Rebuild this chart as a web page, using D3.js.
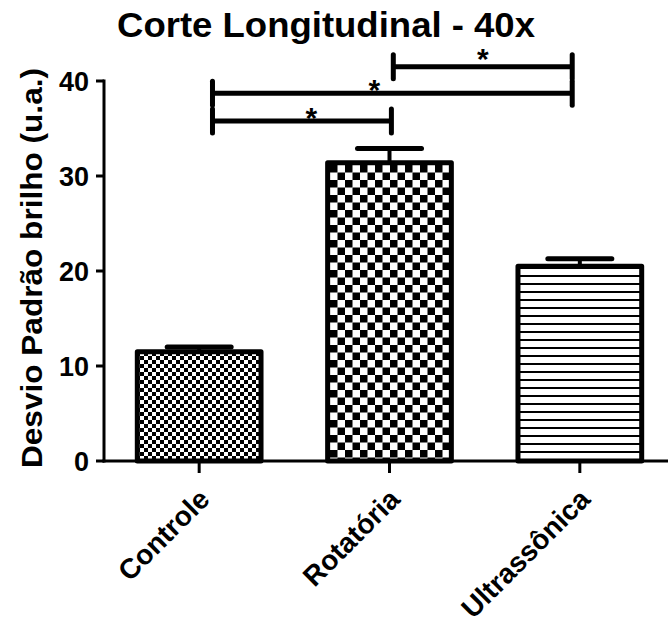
<!DOCTYPE html>
<html>
<head>
<meta charset="utf-8">
<script src="https://cdn.jsdelivr.net/npm/d3@7"></script>
<style>
  body { margin: 0; background: #fff; }
  text { font-family: "Liberation Sans", Arial, sans-serif; font-weight: bold; fill: #000; }
</style>
</head>
<body>
<div id="chart"></div>
<script>
// data
var groups = ["Controle", "Rotatória", "Ultrassônica"];
var means = [11.5, 31.4, 20.5];
var errs = [0.5, 1.5, 0.8];
var patterns = ["fineCheck", "bigCheck", "hLines"];
var yTicks = [0, 10, 20, 30, 40];
// significance brackets: [from index, to index, height, star index, star lift]
var brackets = [
    [0.07, 1.01, 35.8, 0.59, 7],
    [0.07, 1.96, 38.7, 0.92, 7],
    [1.02, 1.96, 41.5, 1.49, 2]
];

var width = 668, height = 627;
var margin = {top: 81, left: 104, bottom: 166};

var svg = d3.select("#chart").append("svg")
    .attr("width", width)
    .attr("height", height);

var defs = svg.append("defs");

// fine checkerboard
var p1 = defs.append("pattern").attr("id", "fineCheck")
    .attr("patternUnits", "userSpaceOnUse").attr("width", 8).attr("height", 8);
p1.append("rect").attr("width", 8).attr("height", 8).attr("fill", "#fff");
p1.append("rect").attr("width", 4).attr("height", 4).attr("fill", "#000");
p1.append("rect").attr("x", 4).attr("y", 4).attr("width", 4).attr("height", 4).attr("fill", "#000");

// big checkerboard
var p2 = defs.append("pattern").attr("id", "bigCheck")
    .attr("patternUnits", "userSpaceOnUse").attr("width", 15).attr("height", 15);
p2.append("rect").attr("width", 15).attr("height", 15).attr("fill", "#fff");
p2.append("rect").attr("width", 7.5).attr("height", 7.5).attr("fill", "#000");
p2.append("rect").attr("x", 7.5).attr("y", 7.5).attr("width", 7.5).attr("height", 7.5).attr("fill", "#000");

// horizontal lines
var p3 = defs.append("pattern").attr("id", "hLines")
    .attr("patternUnits", "userSpaceOnUse").attr("width", 8).attr("height", 8);
p3.append("rect").attr("width", 8).attr("height", 8).attr("fill", "#fff");
p3.append("rect").attr("y", 3).attr("width", 8).attr("height", 2).attr("fill", "#000");

var y = d3.scaleLinear()
    .domain([0, 40])
    .range([461, margin.top]);

var x = d3.scaleBand()
    .domain(groups)
    .range([margin.left, 675])
    .paddingInner(0.35)
    .paddingOuter(0.175);

// bracket positions use category index
var xi = d3.scaleLinear()
    .domain([0, 2])
    .range([x(groups[0]) + x.bandwidth() / 2, x(groups[2]) + x.bandwidth() / 2]);

// title
svg.append("text")
    .attr("x", 326)
    .attr("y", 37)
    .attr("text-anchor", "middle")
    .style("font-size", "35px")
    .attr("textLength", 418)
    .attr("lengthAdjust", "spacingAndGlyphs")
    .text("Corte Longitudinal - 40x");

// y label
svg.append("text")
    .attr("transform", "translate(42,268) rotate(-90)")
    .attr("text-anchor", "middle")
    .style("font-size", "30px")
    .attr("textLength", 400)
    .attr("lengthAdjust", "spacingAndGlyphs")
    .text("Desvio Padrão brilho (u.a.)");

// error bars (behind bars)
var eb = svg.append("g");
groups.forEach(function(g, i) {
    var cx = x(g) + x.bandwidth() / 2;
    eb.append("line")
        .attr("x1", cx).attr("x2", cx)
        .attr("y1", y(means[i])).attr("y2", y(means[i] + errs[i]))
        .attr("stroke", "#000").attr("stroke-width", 4);
    eb.append("line")
        .attr("x1", cx - 32).attr("x2", cx + 32)
        .attr("y1", y(means[i] + errs[i])).attr("y2", y(means[i] + errs[i]))
        .attr("stroke", "#000").attr("stroke-width", 5)
        .attr("stroke-linecap", "round");
});

// bars
svg.append("g").selectAll("rect")
    .data(groups)
    .enter().append("rect")
    .attr("x", function(d) { return x(d); })
    .attr("y", function(d, i) { return y(means[i]); })
    .attr("width", x.bandwidth())
    .attr("height", function(d, i) { return y(0) - y(means[i]); })
    .attr("fill", function(d, i) { return "url(#" + patterns[i] + ")"; })
    .attr("stroke", "#000")
    .attr("stroke-width", 5)
    .attr("stroke-linejoin", "round");

// y axis
var yAxis = svg.append("g")
    .attr("transform", "translate(" + margin.left + ",0)");
yAxis.append("line")
    .attr("x1", 0).attr("x2", 0)
    .attr("y1", y(40) - 1.5).attr("y2", y(0) + 1.5)
    .attr("stroke", "#000").attr("stroke-width", 3);
yAxis.selectAll(".tick")
    .data(yTicks)
    .enter().append("line")
    .attr("x1", -8).attr("x2", 0)
    .attr("y1", function(d) { return y(d); })
    .attr("y2", function(d) { return y(d); })
    .attr("stroke", "#000").attr("stroke-width", 3);
yAxis.selectAll(".lbl")
    .data(yTicks)
    .enter().append("text")
    .attr("x", -15)
    .attr("y", function(d) { return y(d); })
    .attr("dy", "0.36em")
    .attr("text-anchor", "end")
    .style("font-size", "27px")
    .text(function(d) { return d; });

// x axis
var xAxis = svg.append("g");
xAxis.append("line")
    .attr("x1", margin.left - 1.5).attr("x2", width)
    .attr("y1", y(0)).attr("y2", y(0))
    .attr("stroke", "#000").attr("stroke-width", 3);
xAxis.selectAll(".tick")
    .data(groups)
    .enter().append("line")
    .attr("x1", function(d) { return x(d) + x.bandwidth() / 2; })
    .attr("x2", function(d) { return x(d) + x.bandwidth() / 2; })
    .attr("y1", y(0)).attr("y2", y(0) + 12)
    .attr("stroke", "#000").attr("stroke-width", 3);
xAxis.selectAll(".lbl")
    .data(groups)
    .enter().append("text")
    .attr("transform", function(d) {
        return "translate(" + (x(d) + x.bandwidth() / 2 + 12) + "," + (y(0) + 40) + ") rotate(-45)";
    })
    .attr("text-anchor", "end")
    .style("font-size", "28px")
    .text(function(d) { return d; });

// significance brackets
var br = svg.append("g");
brackets.forEach(function(b) {
    var x1 = xi(b[0]), x2 = xi(b[1]), yy = y(b[2]);
    br.append("path")
        .attr("d", "M" + x1 + "," + yy + "H" + x2)
        .attr("stroke", "#000").attr("stroke-width", 5).attr("fill", "none");
    [x1, x2].forEach(function(xx) {
        br.append("line")
            .attr("x1", xx).attr("x2", xx)
            .attr("y1", yy - 12).attr("y2", yy + 12)
            .attr("stroke", "#000").attr("stroke-width", 5)
            .attr("stroke-linecap", "round");
    });
    br.append("text")
        .attr("x", xi(b[3]))
        .attr("y", yy + b[4])
        .attr("text-anchor", "middle")
        .style("font-size", "30px")
        .text("*");
});
</script>
</body>
</html>
